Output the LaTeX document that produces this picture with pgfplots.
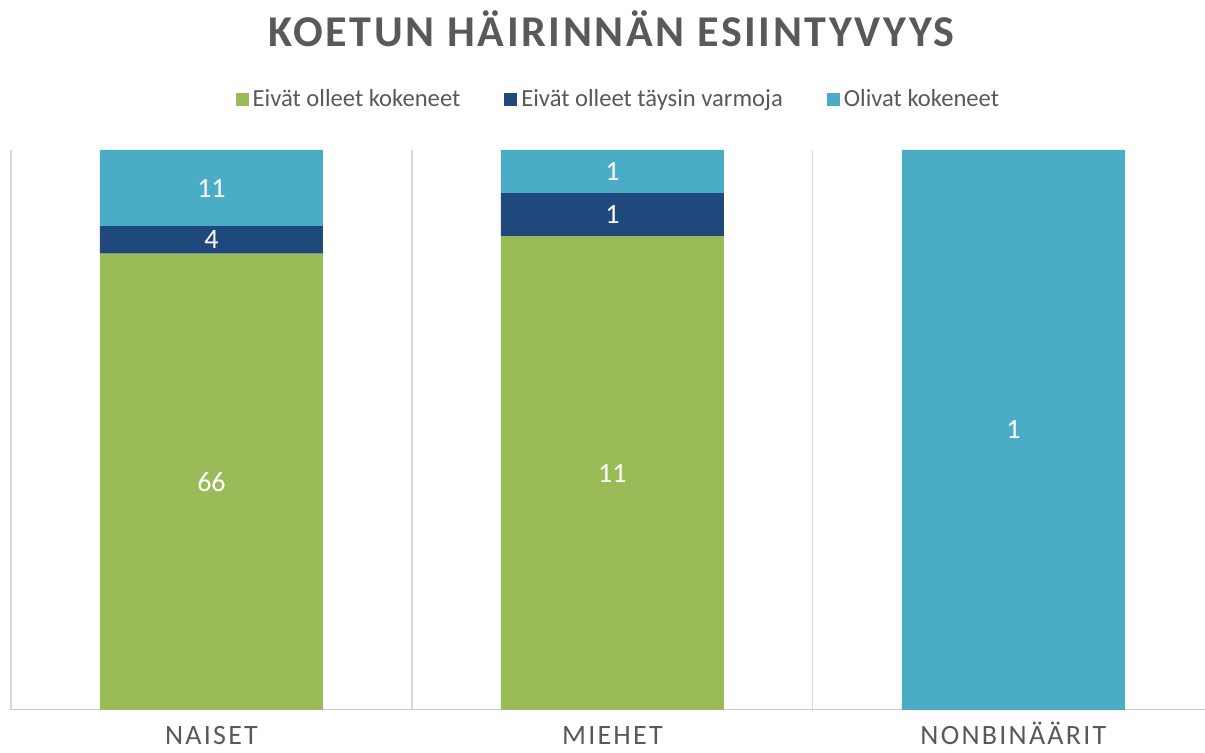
\documentclass[border=0pt]{standalone}
\usepackage{fontspec}
\setmainfont{Carlito}
\usepackage{pgfplots}
\pgfplotsset{compat=1.18}
\definecolor{cgreen}{HTML}{9BBB59}
\definecolor{cdark}{HTML}{1F497D}
\definecolor{cteal}{HTML}{4BACC6}
\definecolor{txt}{HTML}{595959}
\pgfplotsset{
  common/.style={
    at={(5.5pt,21.5pt)}, anchor=south west,
    scale only axis, width=597pt, height=280pt,
    xmin=-0.5, xmax=2.478, ymin=0, ymax=100,
    enlargelimits=false,
  }
}
\begin{document}
\begin{tikzpicture}
\useasboundingbox (0,0) rectangle (602.5pt,376.5pt);
\begin{axis}[
  common,
  ybar stacked, bar width=111.5pt,
  ytick=\empty,
  xtick={0,1,2},
  xticklabels={NAISET,MIEHET,NONBINÄÄRIT},
  major tick length=0pt,
  xticklabel style={anchor=base, inner sep=0pt, yshift=-17.5pt, text=txt, font=\fontsize{14}{16}\selectfont\addfontfeatures{LetterSpace=8}},
  extra x ticks={-0.5,0.5,1.5},
  extra x tick labels={},
  extra x tick style={grid=major, major grid style={draw=black!15, line width=0.6pt}},
  axis line style={draw=none},
  tick style={draw=none},
  title={KOETUN HÄIRINNÄN ESIINTYVYYS},
  title style={anchor=center, at={(0.503,1.195)}, text=txt, font=\fontsize{22}{26}\selectfont\bfseries\addfontfeatures{LetterSpace=6}},
  legend columns=3,
  legend style={at={(0.5095,1.091)}, anchor=center, draw=none, text=txt, font=\fontsize{12.3}{14}\selectfont, /tikz/every even column/.append style={column sep=20pt}},
  legend image code/.code={\fill[#1] (0pt,-3.25pt) rectangle (6.5pt,3.25pt);},
]
\addplot[fill=cgreen, draw=none] coordinates {(0,81.481) (1,84.615) (2,0)};
\addplot[fill=cdark, draw=none] coordinates {(0,4.938) (1,7.692) (2,0)};
\addplot[fill=cteal, draw=none] coordinates {(0,13.580) (1,7.692) (2,100)};
\legend{Eivät olleet kokeneet, Eivät olleet täysin varmoja, Olivat kokeneet}
\draw[black!20, line width=0.8pt] (rel axis cs:0,0) -- (rel axis cs:1,0);
\end{axis}
\begin{axis}[
  common, hide axis,
]
\addplot[only marks, mark=none, point meta=explicit symbolic,
  nodes near coords, nodes near coords style={anchor=center, white, font=\fontsize{14}{16}\selectfont}]
  coordinates {(0,40.74) [66] (0,83.95) [4] (0,93.21) [11]
               (1,42.31) [11] (1,88.46) [1] (1,96.15) [1]
               (2,50) [1]};
\end{axis}
\end{tikzpicture}
\end{document}
